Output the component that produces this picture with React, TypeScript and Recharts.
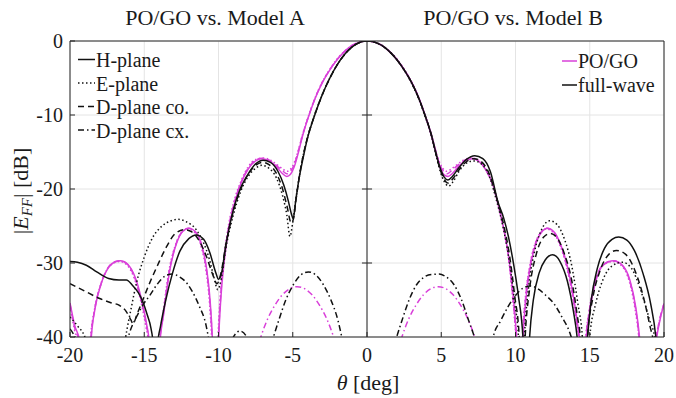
import React from 'react';
import { LineChart, Line, XAxis, YAxis, CartesianGrid, ReferenceLine } from 'recharts';

// ---- axes ----
const THETA_TICKS = [-20, -15, -10, -5, 0, 5, 10, 15, 20];
const DB_TICKS = [-40, -30, -20, -10, 0];
const MID_TICKS = [-10, -20, -30];

// ---- PO/GO (magenta) : [theta deg, dB] ----
const poH: [number, number][] = [
  [-20, -35.4], [-19.7, -38.3], [-19.3, -41], [-18.95, -60], [-18.6, -41], [-18.3, -36], [-17.9, -32.8], [-17.4, -30.6], [-16.9, -29.8], [-16.6, -29.7], [-16.1, -30.2], [-15.6, -32.0], [-15.2, -34.8], [-14.85, -38.2], [-14.65, -41], [-14.3, -60], [-13.95, -41], [-13.7, -37], [-13.3, -31.2], [-12.8, -27.2], [-12.4, -25.7], [-12.0, -25.3], [-11.5, -25.9], [-11.1, -27.8], [-10.8, -30.8], [-10.55, -35.5], [-10.4, -41], [-10.2, -60], [-10.0, -41], [-9.85, -35], [-9.6, -29.5], [-9.3, -25.3], [-8.9, -21.8], [-8.5, -19.3], [-8.0, -17.3], [-7.5, -16.2], [-7.1, -15.9], [-6.6, -16.2], [-6.1, -17.0], [-5.7, -17.9], [-5.4, -18.3], [-5.15, -18.0], [-4.9, -17.0], [-4.6, -14.9], [-4.35, -12.9], [-3.9, -10.0], [-3.5, -7.8], [-3.0, -5.6], [-2.5, -3.9], [-2.0, -2.5], [-1.5, -1.4], [-1.0, -0.6], [-0.5, -0.15], [0, 0],
  [0.5, -0.15], [1.0, -0.6], [1.5, -1.4], [2.0, -2.5], [2.5, -3.9], [3.0, -5.6], [3.5, -7.8], [3.9, -10.0], [4.35, -12.9], [4.6, -14.9], [4.9, -17.0], [5.2, -18.1], [5.45, -18.3], [5.75, -17.9], [6.15, -17.0], [6.6, -16.2], [7.1, -15.9], [7.5, -16.2], [8.0, -17.4], [8.5, -19.6], [8.85, -22.3], [9.2, -25.3], [9.5, -28.6], [9.8, -33.5], [10.0, -38], [10.1, -41], [10.3, -60], [10.5, -41], [10.7, -35], [11.0, -30.5], [11.4, -27.2], [11.8, -25.7], [12.15, -25.3], [12.6, -25.8], [13.0, -27.3], [13.5, -30.5], [13.9, -34.5], [14.2, -38.5], [14.35, -41], [14.55, -60], [14.75, -41], [15.0, -36.5], [15.4, -32.5], [15.9, -30.3], [16.6, -29.7], [17.2, -30.3], [17.7, -32.3], [18.1, -36], [18.35, -40], [18.9, -60], [19.45, -41], [19.7, -38], [20, -35.5],
];

const poE: [number, number][] = [
  [-20, -35.8], [-19.7, -39], [-19.35, -42], [-19.0, -60], [-18.65, -41], [-18.35, -36.3], [-17.95, -33], [-17.45, -30.7], [-16.95, -29.9], [-16.65, -29.8], [-16.15, -30.3], [-15.65, -32.2], [-15.25, -35], [-14.9, -38.5], [-14.7, -41], [-14.35, -60], [-14.0, -41], [-13.75, -37], [-13.35, -31.2], [-12.85, -27.3], [-12.45, -25.8], [-12.05, -25.4], [-11.55, -26], [-11.15, -27.9], [-10.85, -30.9], [-10.6, -35.6], [-10.45, -41], [-10.25, -60], [-10.05, -41], [-9.9, -35], [-9.65, -29.5], [-9.35, -25.2], [-8.95, -21.6], [-8.5, -19.0], [-8.0, -17.0], [-7.5, -16.0], [-7.0, -15.8], [-6.5, -16.1], [-6.0, -16.8], [-5.6, -17.4], [-5.35, -17.6], [-5.1, -17.2], [-4.85, -16.2], [-4.6, -14.6], [-4.35, -12.7], [-3.9, -9.9], [-3.5, -7.7], [-3.0, -5.5], [-2.5, -3.8], [-2.0, -2.4], [-1.5, -1.35], [-1.0, -0.6], [-0.5, -0.15], [0, 0],
  [0.5, -0.15], [1.0, -0.6], [1.5, -1.35], [2.0, -2.4], [2.5, -3.8], [3.0, -5.5], [3.5, -7.7], [3.9, -9.9], [4.35, -12.7], [4.6, -14.6], [4.85, -16.2], [5.1, -17.2], [5.35, -17.6], [5.6, -17.4], [6.0, -16.8], [6.5, -16.1], [7.0, -15.8], [7.5, -16.1], [8.0, -17.3], [8.5, -19.5], [8.85, -22.2], [9.2, -25.3], [9.5, -28.8], [9.75, -33.5], [9.95, -38], [10.05, -41], [10.25, -60], [10.45, -41], [10.65, -35], [10.95, -30.5], [11.35, -27.2], [11.75, -25.8], [12.1, -25.4], [12.55, -25.9], [12.95, -27.4], [13.45, -30.6], [13.85, -34.6], [14.15, -38.6], [14.3, -41], [14.5, -60], [14.7, -41], [14.95, -36.6], [15.35, -32.6], [15.85, -30.4], [16.55, -29.8], [17.15, -30.4], [17.65, -32.4], [18.05, -36.2], [18.3, -40], [18.85, -60], [19.4, -41], [19.65, -38.2], [20, -35.6],
];

const poD: [number, number][] = [
  [-20, -35.6], [-19.7, -38.6], [-19.3, -41.5], [-18.97, -60], [-18.62, -41], [-18.32, -36.1], [-17.92, -32.9], [-17.42, -30.6], [-16.92, -29.8], [-16.62, -29.7], [-16.12, -30.2], [-15.62, -32.1], [-15.22, -34.9], [-14.87, -38.3], [-14.67, -41], [-14.32, -60], [-13.97, -41], [-13.72, -37], [-13.32, -31.2], [-12.82, -27.2], [-12.42, -25.7], [-12.02, -25.3], [-11.52, -25.9], [-11.12, -27.8], [-10.82, -30.8], [-10.57, -35.5], [-10.42, -41], [-10.22, -60], [-10.02, -41], [-9.87, -35], [-9.62, -29.5], [-9.32, -25.2], [-8.92, -21.7], [-8.5, -19.2], [-8.0, -17.2], [-7.5, -16.1], [-7.05, -15.85], [-6.55, -16.15], [-6.05, -16.9], [-5.65, -17.6], [-5.4, -17.95], [-5.15, -17.6], [-4.88, -16.6], [-4.6, -14.7], [-4.35, -12.8], [-3.9, -9.95], [-3.5, -7.75], [-3.0, -5.55], [-2.5, -3.85], [-2.0, -2.45], [-1.5, -1.4], [-1.0, -0.6], [-0.5, -0.15], [0, 0],
  [0.5, -0.15], [1.0, -0.6], [1.5, -1.4], [2.0, -2.45], [2.5, -3.85], [3.0, -5.55], [3.5, -7.75], [3.9, -9.95], [4.35, -12.8], [4.6, -14.7], [4.88, -16.6], [5.15, -17.6], [5.4, -17.95], [5.65, -17.6], [6.05, -16.9], [6.55, -16.15], [7.05, -15.85], [7.5, -16.15], [8.0, -17.35], [8.5, -19.55], [8.85, -22.25], [9.2, -25.3], [9.5, -28.7], [9.77, -33.5], [9.97, -38], [10.07, -41], [10.27, -60], [10.47, -41], [10.67, -35], [10.97, -30.5], [11.37, -27.2], [11.77, -25.7], [12.12, -25.3], [12.57, -25.8], [12.97, -27.3], [13.47, -30.5], [13.87, -34.5], [14.17, -38.5], [14.32, -41], [14.52, -60], [14.72, -41], [14.97, -36.5], [15.37, -32.5], [15.87, -30.3], [16.57, -29.7], [17.17, -30.3], [17.67, -32.3], [18.07, -36], [18.32, -40], [18.87, -60], [19.42, -41], [19.67, -38], [20, -35.5],
];

const poX: [number, number][] = [
  [-20, -50], [-16, -52], [-12, -50], [-9, -47], [-7.7, -44], [-7.15, -40], [-6.7, -37.6], [-6.2, -35.7], [-5.7, -34.3], [-4.7, -33.2], [-3.7, -34.3], [-3.2, -35.7], [-2.7, -37.6], [-2.25, -40], [-1.7, -44], [-0.8, -50], [0, -53],
  [0.8, -50], [1.8, -44], [2.35, -40], [2.8, -37.6], [3.3, -35.7], [3.8, -34.3], [4.8, -33.2], [5.8, -34.3], [6.3, -35.7], [6.8, -37.6], [7.25, -40], [7.8, -44], [9, -47], [12, -50], [16, -52], [20, -50],
];

// ---- full-wave (black): Model A for theta < 0, Model B for theta > 0 ----
const fwH: [number, number][] = [
  [-20, -29.8], [-19.5, -29.9], [-18.9, -30.3], [-18.2, -31.2], [-17.4, -32.1], [-16.7, -32.3], [-16.2, -32.3], [-15.8, -33.0], [-15.4, -34.0], [-15.1, -35.2], [-14.8, -37], [-14.55, -38.8], [-14.4, -41], [-14.25, -50], [-14.1, -41], [-13.9, -38.5], [-13.55, -35], [-13.1, -31.4], [-12.6, -28.4], [-12.0, -26.7], [-11.5, -26.2], [-11.0, -26.8], [-10.6, -28.5], [-10.2, -31.2], [-10.0, -32.2], [-9.8, -31.4], [-9.5, -27.5], [-9.0, -22.8], [-8.5, -19.8], [-8.1, -18.3], [-7.5, -16.6], [-7.0, -16.1], [-6.5, -16.4], [-6.0, -17.6], [-5.6, -19.5], [-5.3, -21.6], [-5.1, -23.3], [-4.97, -24.0], [-4.8, -21.6], [-4.6, -18.9], [-4.3, -15.8], [-4.0, -13.1], [-3.5, -9.9], [-3.0, -7.2], [-2.5, -5.0], [-2.0, -3.2], [-1.5, -1.8], [-1.0, -0.8], [-0.5, -0.2], [0, 0],
  [0.5, -0.15], [1.0, -0.6], [1.5, -1.4], [2.0, -2.5], [2.5, -3.9], [3.0, -5.6], [3.5, -7.8], [3.9, -10.0], [4.35, -12.8], [4.6, -14.8], [4.9, -17.0], [5.2, -18.4], [5.45, -18.8], [5.75, -18.3], [6.2, -17.1], [6.7, -16.0], [7.25, -15.5], [7.8, -15.9], [8.3, -17.6], [8.84, -21.9], [9.2, -23.9], [9.52, -26.4], [9.9, -30.5], [10.2, -34.5], [10.5, -40], [10.72, -50], [10.95, -40], [11.2, -35], [11.6, -31.3], [12.0, -29.6], [12.5, -28.9], [13.0, -29.8], [13.5, -32.5], [13.9, -36.5], [14.15, -40], [14.5, -50], [14.85, -40], [15.1, -35], [15.5, -30.8], [16.0, -28.0], [16.5, -26.8], [16.95, -26.5], [17.5, -26.9], [18.0, -28.3], [18.6, -31.5], [19.1, -35.5], [19.45, -40], [19.8, -50], [20, -48],
];

const fwE: [number, number][] = [
  [-20, -37.3], [-19.5, -38.5], [-19.0, -40], [-18.5, -44], [-17.5, -55], [-16.8, -48], [-16.4, -42], [-16.25, -40], [-15.9, -36.3], [-15.5, -32.5], [-15.0, -29.2], [-14.5, -26.8], [-13.8, -25.0], [-13.2, -24.3], [-12.75, -24.1], [-12.2, -24.4], [-11.5, -25.5], [-11.0, -27.3], [-10.6, -29.6], [-10.3, -32], [-10.05, -33.6], [-9.8, -32], [-9.5, -28], [-9.0, -23.5], [-8.5, -20.3], [-8.0, -18.3], [-7.5, -17.2], [-7.1, -16.8], [-6.6, -17.2], [-6.1, -18.5], [-5.7, -20.8], [-5.4, -23.5], [-5.19, -26.4], [-5.0, -24.5], [-4.8, -21.5], [-4.5, -17.6], [-4.2, -14.6], [-4.0, -13.0], [-3.5, -9.8], [-3.0, -7.2], [-2.5, -5.0], [-2.0, -3.2], [-1.5, -1.8], [-1.0, -0.8], [-0.5, -0.2], [0, 0],
  [0.5, -0.15], [1.0, -0.6], [1.5, -1.4], [2.0, -2.5], [2.5, -3.9], [3.0, -5.7], [3.5, -7.9], [3.9, -10.1], [4.35, -12.9], [4.6, -15.0], [4.9, -17.4], [5.2, -19.0], [5.5, -19.6], [5.8, -19.0], [6.2, -17.6], [6.7, -16.5], [7.2, -16.2], [7.7, -16.6], [8.2, -18.1], [8.7, -21.4], [9.2, -25.5], [9.6, -30], [9.95, -35.5], [10.2, -40], [10.4, -50], [10.6, -40], [10.9, -33], [11.3, -28.3], [11.8, -25.3], [12.3, -24.3], [12.8, -24.8], [13.3, -26.8], [13.8, -30.5], [14.2, -35.5], [14.5, -40], [14.75, -50], [15.0, -40], [15.4, -35.5], [15.9, -32.2], [16.5, -30.4], [17.2, -29.9], [17.8, -30.7], [18.4, -33.5], [19.0, -37.5], [19.4, -40.5], [19.7, -50], [20, -50],
];

const fwD: [number, number][] = [
  [-20, -32.8], [-19.0, -33.8], [-18.0, -34.8], [-17.2, -35.4], [-16.7, -35.7], [-16.2, -36.6], [-15.9, -37.7], [-15.75, -38.2], [-15.5, -37], [-15.1, -35], [-14.55, -32.3], [-14.1, -30.3], [-13.5, -27.8], [-12.9, -26.0], [-12.3, -25.5], [-11.8, -25.8], [-11.3, -27.0], [-10.8, -29.2], [-10.4, -31.5], [-10.1, -32.8], [-9.85, -31.5], [-9.5, -27.5], [-9.0, -23.0], [-8.5, -20.0], [-8.0, -18.0], [-7.5, -16.8], [-7.05, -16.4], [-6.6, -16.7], [-6.1, -17.9], [-5.7, -19.9], [-5.4, -22.2], [-5.1, -24.6], [-4.95, -24.0], [-4.75, -21.0], [-4.5, -17.6], [-4.2, -14.6], [-4.0, -13.0], [-3.5, -9.85], [-3.0, -7.2], [-2.5, -5.0], [-2.0, -3.2], [-1.5, -1.8], [-1.0, -0.8], [-0.5, -0.2], [0, 0],
  [0.5, -0.15], [1.0, -0.6], [1.5, -1.4], [2.0, -2.5], [2.5, -3.9], [3.0, -5.6], [3.5, -7.8], [3.9, -10.0], [4.35, -12.8], [4.6, -14.9], [4.9, -17.2], [5.2, -18.7], [5.45, -19.2], [5.75, -18.7], [6.2, -17.4], [6.7, -16.3], [7.2, -15.9], [7.7, -16.3], [8.2, -17.8], [8.7, -21.0], [9.2, -24.8], [9.6, -29], [9.95, -34.5], [10.25, -40], [10.45, -50], [10.65, -40], [10.95, -33.5], [11.4, -28.8], [11.9, -26.5], [12.35, -26.0], [12.8, -26.6], [13.3, -28.8], [13.8, -32.5], [14.15, -37], [14.4, -41], [14.6, -50], [14.85, -40], [15.2, -34.8], [15.7, -31.0], [16.3, -28.8], [16.8, -28.3], [17.4, -28.8], [18.0, -30.8], [18.6, -34.5], [19.05, -38.5], [19.3, -41], [19.6, -50], [20, -50],
];

const fwX: [number, number][] = [
  [-20, -38.9], [-19.6, -40.3], [-19.2, -43], [-18, -50], [-16.8, -45], [-16.2, -41], [-16.0, -39.5], [-15.5, -37.2], [-15.1, -35.7], [-14.6, -34.3], [-14.1, -32.8], [-13.55, -31.7], [-13.1, -31.5], [-12.6, -31.9], [-12.1, -32.8], [-11.75, -33.9], [-11.3, -35.8], [-10.84, -38.4], [-10.6, -41], [-10, -50], [-9.3, -42], [-9.0, -40], [-8.55, -39.2], [-8.1, -40], [-7.6, -43], [-6.8, -45], [-6.45, -41], [-6.3, -40], [-5.95, -37.8], [-5.45, -34.9], [-4.95, -32.9], [-4.45, -31.6], [-3.95, -31.2], [-3.45, -31.6], [-2.95, -32.9], [-2.45, -34.9], [-1.95, -37.8], [-1.7, -40], [-1.4, -43], [-0.7, -50], [0, -55],
  [0.8, -50], [1.6, -43], [2.0, -40], [2.35, -37.8], [2.85, -34.9], [3.35, -32.9], [3.85, -31.9], [4.35, -31.55], [4.85, -31.5], [5.35, -31.9], [5.85, -32.9], [6.35, -34.9], [6.85, -37.8], [7.3, -40.5], [7.8, -45], [8.1, -45], [8.5, -40], [9.0, -37.8], [9.5, -35.9], [10.0, -34.4], [10.5, -33.4], [11.0, -33.1], [11.6, -33.6], [12.0, -34.3], [12.55, -35.4], [13.1, -37.2], [13.67, -39.5], [13.9, -41], [14.5, -48], [15.5, -50], [17, -50], [18, -48], [20, -45],
];

// ---- styles ----
const MAGENTA = '#d940d9';
const INK = '#111111';
const AXIS = '#262626';
const FONT = '"Liberation Serif", "Times New Roman", serif';
const DOTTED = '1.5 2.5';
const DASHED = '6 4';
const DASHDOT = '6 3 1.5 3';

const toPts = (arr: [number, number][]) => arr.map(([t, v]) => ({ t, v }));

const SERIES = [
  { key: 'poX', data: poX, color: MAGENTA, dash: DASHDOT },
  { key: 'poD', data: poD, color: MAGENTA, dash: DASHED },
  { key: 'poE', data: poE, color: MAGENTA, dash: DOTTED },
  { key: 'poH', data: poH, color: MAGENTA, dash: undefined },
  { key: 'fwX', data: fwX, color: INK, dash: DASHDOT },
  { key: 'fwD', data: fwD, color: INK, dash: DASHED },
  { key: 'fwE', data: fwE, color: INK, dash: DOTTED },
  { key: 'fwH', data: fwH, color: INK, dash: undefined },
];

const LEGEND_PLANES = [
  { label: 'H-plane', dash: undefined },
  { label: 'E-plane', dash: DOTTED },
  { label: 'D-plane co.', dash: DASHED },
  { label: 'D-plane cx.', dash: DASHDOT },
];
const LEGEND_MODELS = [
  { label: 'PO/GO', color: MAGENTA },
  { label: 'full-wave', color: INK },
];
const TITLES = ['PO/GO vs. Model A', 'PO/GO vs. Model B'];

const tickStyle = { fontFamily: FONT, fontSize: 20, fill: '#1a1a1a' };

export default function App() {
  return (
    <div style={{ position: 'absolute', left: 0, top: 0, width: 676, height: 398, background: '#fff' }}>
      <LineChart width={676} height={398} margin={{ top: 40, right: 11, left: 10, bottom: 31 }}>
        <CartesianGrid xAxisId="b" yAxisId="l" stroke="#e4e4e4" strokeWidth={1} />
        <XAxis xAxisId="b" type="number" dataKey="t" domain={[-20, 20]} ticks={THETA_TICKS} interval={0}
          allowDataOverflow height={30} tickSize={-5} tickMargin={16} stroke={AXIS} tick={tickStyle} />
        <XAxis xAxisId="t" orientation="top" type="number" dataKey="t" domain={[-20, 20]} ticks={THETA_TICKS} interval={0}
          allowDataOverflow height={1} tickSize={-5} tick={false} stroke={AXIS} />
        <YAxis yAxisId="l" type="number" domain={[-40, 0]} ticks={DB_TICKS} interval={0}
          allowDataOverflow width={60} tickSize={-5} tickMargin={12} stroke={AXIS} tick={tickStyle} />
        <YAxis yAxisId="r" orientation="right" type="number" domain={[-40, 0]} ticks={DB_TICKS} interval={0}
          allowDataOverflow width={1} tickSize={-5} tick={false} stroke={AXIS} />
        <ReferenceLine xAxisId="b" yAxisId="l" x={0} stroke={AXIS} strokeWidth={1} />
        {MID_TICKS.map((v) => (
          <ReferenceLine key={v} xAxisId="b" yAxisId="l" stroke={AXIS} strokeWidth={1}
            segment={[{ x: -0.34, y: v }, { x: 0.34, y: v }]} />
        ))}
        {SERIES.map((s) => (
          <Line key={s.key} xAxisId="b" yAxisId="l" data={toPts(s.data)} dataKey="v" type="monotone"
            stroke={s.color} strokeWidth={1.5} strokeDasharray={s.dash} dot={false} activeDot={false}
            isAnimationActive={false} />
        ))}
      </LineChart>
      <svg width={676} height={398} style={{ position: 'absolute', left: 0, top: 0, pointerEvents: 'none' }}
        fontFamily={FONT} fill="#1a1a1a">
        <text x={215} y={25} textAnchor="middle" fontSize={22}>{TITLES[0]}</text>
        <text x={513} y={25} textAnchor="middle" fontSize={22}>{TITLES[1]}</text>
        <text x={368} y={390} textAnchor="middle" fontSize={22}>
          <tspan fontStyle="italic">θ</tspan> [deg]
        </text>
        <text transform="translate(28,191) rotate(-90)" textAnchor="middle" fontSize={22}>
          |<tspan fontStyle="italic">E</tspan>
          <tspan fontStyle="italic" fontSize={15} dy={4}>FF</tspan>
          <tspan dy={-4}>| [dB]</tspan>
        </text>
        {LEGEND_PLANES.map((p, i) => {
          const base = 67 + i * 23.5;
          return (
            <g key={p.label}>
              <line x1={78} x2={95} y1={base - 7.5} y2={base - 7.5} stroke={INK} strokeWidth={1.5} strokeDasharray={p.dash} />
              <text x={96} y={base} fontSize={20}>{p.label}</text>
            </g>
          );
        })}
        {LEGEND_MODELS.map((m, i) => {
          const base = 68 + i * 24;
          return (
            <g key={m.label}>
              <line x1={562} x2={577} y1={base - 7} y2={base - 7} stroke={m.color} strokeWidth={1.5} />
              <text x={578} y={base} fontSize={20}>{m.label}</text>
            </g>
          );
        })}
      </svg>
    </div>
  );
}
